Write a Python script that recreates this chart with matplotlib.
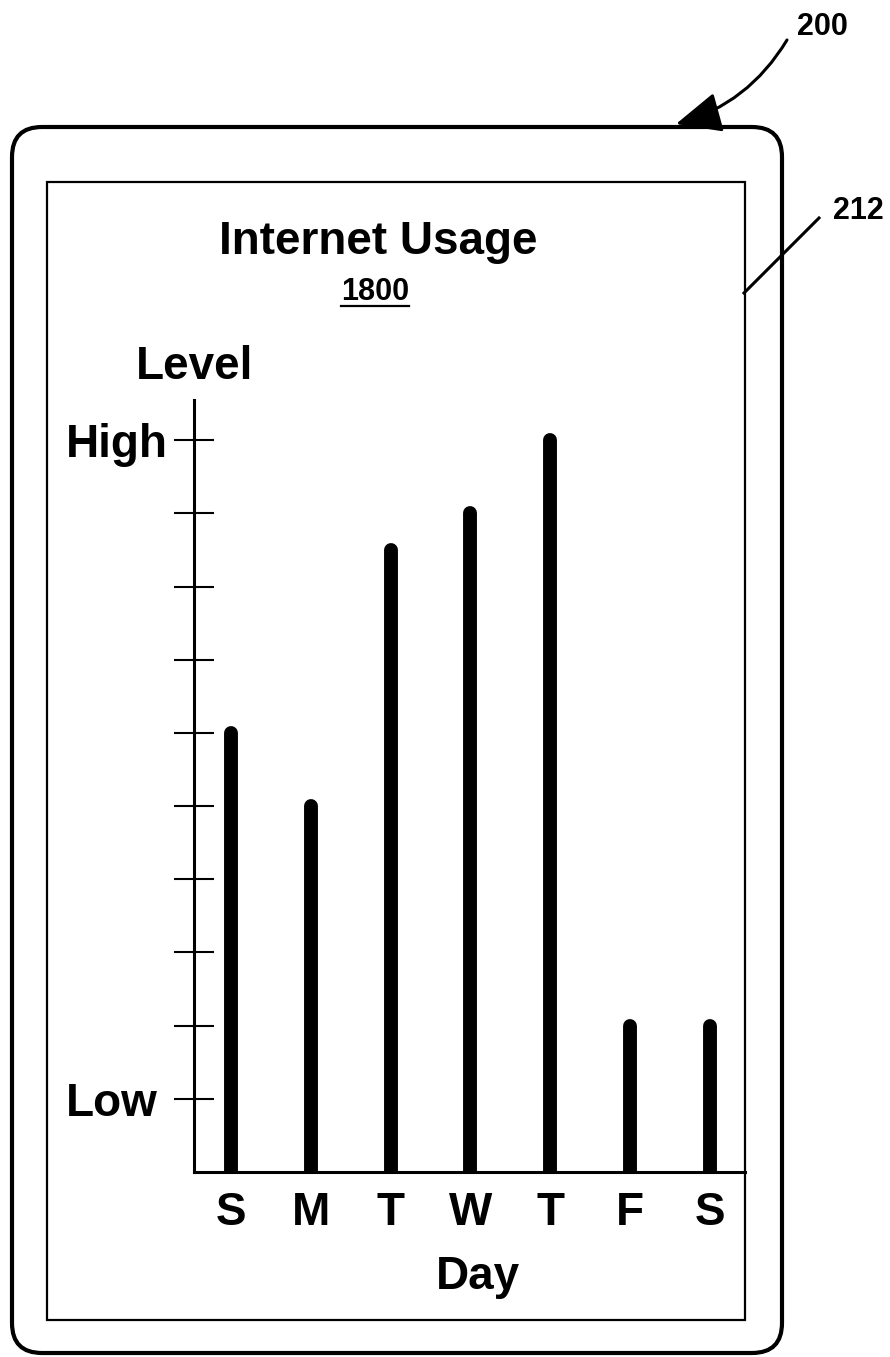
import matplotlib.pyplot as plt
from matplotlib.patches import FancyBboxPatch, Rectangle, FancyArrowPatch

# datos
dias = ["S", "M", "T", "W", "T", "F", "S"]
nivel = [6, 5, 8.5, 9, 10, 2, 2]
ticks_nivel = [1, 2, 3, 4, 5, 6, 7, 8, 9, 10]
etiquetas_nivel = ["Low", "", "", "", "", "", "", "", "", "High"]

plt.rcParams["font.family"] = ["Liberation Sans", "DejaVu Sans"]
plt.rcParams["font.weight"] = "bold"

W, H = 890, 1357
fig = plt.figure(figsize=(W / 100, H / 100), dpi=100, facecolor="white")

# capa de dibujo en pixeles (marco del dispositivo y referencias)
capa = fig.add_axes([0, 0, 1, 1])
capa.set_xlim(0, W)
capa.set_ylim(H, 0)
capa.axis("off")

capa.add_patch(FancyBboxPatch((12, 127), 770, 1226,
                              boxstyle="round,pad=0,rounding_size=30",
                              fill=False, edgecolor="black", linewidth=3))
capa.add_patch(Rectangle((47, 182), 698, 1138, fill=False,
                         edgecolor="black", linewidth=1.6))

capa.text(378, 242, "Internet Usage", fontsize=33, fontweight="bold",
          ha="center", va="center")
capa.text(375, 292, "1800", fontsize=22, fontweight="bold",
          ha="center", va="center")
capa.plot([341, 409], [306, 306], color="black", linewidth=1.6)
capa.text(195, 367, "Level", fontsize=33, fontweight="bold",
          ha="center", va="center")
capa.text(478, 1277, "Day", fontsize=33, fontweight="bold",
          ha="center", va="center")

# numeros de referencia
capa.text(822, 27, "200", fontsize=22, fontweight="bold", ha="center", va="center")
capa.text(858, 211, "212", fontsize=22, fontweight="bold", ha="center", va="center")
capa.add_patch(FancyArrowPatch((787, 40), (676, 124),
                               connectionstyle="arc3,rad=-0.2",
                               arrowstyle="-|>,head_length=1.0,head_width=0.45",
                               mutation_scale=28, color="black", linewidth=2.2,
                               shrinkA=0, shrinkB=0))
capa.plot([819, 744], [218, 293], color="black", linewidth=2.2)

# grafico
ax = fig.add_axes([194 / W, (H - 1172) / H, (745 - 194) / W, (1172 - 400) / H])
ax.patch.set_alpha(0)
x = list(range(len(dias)))
ax.vlines(x, 0, nivel, colors="black", linewidth=10, capstyle="round")
ax.set_xlim(-0.464, 6.44)
ax.set_ylim(0, 10.55)

for lado in ["top", "right"]:
    ax.spines[lado].set_visible(False)
for lado in ["left", "bottom"]:
    ax.spines[lado].set_linewidth(2.2)

ax.set_xticks(x)
ax.set_xticklabels(dias, fontsize=33, fontweight="bold")
ax.tick_params(axis="x", length=0, pad=14)
ax.set_yticks(ticks_nivel)
ax.set_yticklabels(etiquetas_nivel, fontsize=33, fontweight="bold")
ax.tick_params(axis="y", direction="inout", length=29, width=1.5, pad=78)
for et in ax.get_yticklabels():
    et.set_ha("left")

fig.savefig("out.png", dpi=100, facecolor="white")
